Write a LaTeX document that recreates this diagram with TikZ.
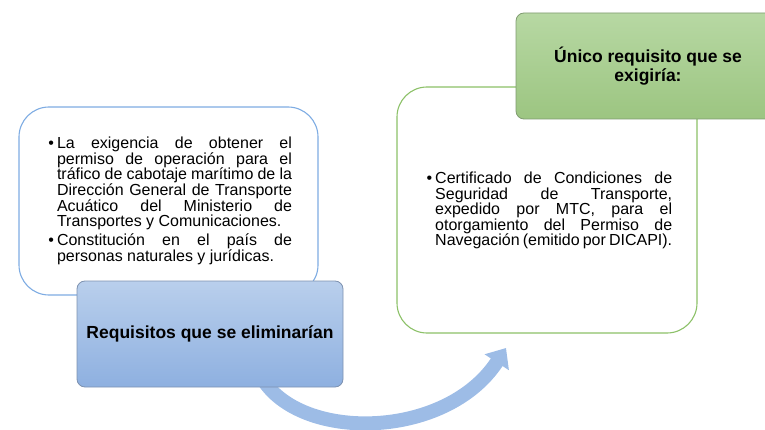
\documentclass[tikz,border=0pt]{standalone}
\usepackage{fontspec}
\setmainfont{Liberation Sans}
\usetikzlibrary{arrows.meta}
\definecolor{lborder}{HTML}{7EACE3}
\definecolor{rborder}{HTML}{8CC168}
\definecolor{bluetop}{HTML}{B9CFEC}
\definecolor{bluebot}{HTML}{8EB0E0}
\definecolor{blueedge}{HTML}{7E92B0}
\definecolor{greentop}{HTML}{B7D8A3}
\definecolor{greenbot}{HTML}{9CC581}
\definecolor{greenedge}{HTML}{7F9B70}
\definecolor{arrowcol}{HTML}{9DBCE6}
\newenvironment{bulletlist}{\begin{list}{\textbullet}{\leftmargin=9pt\labelwidth=6pt\labelsep=3pt\itemsep=3.7pt\topsep=0pt\parsep=0pt\partopsep=0pt\itemindent=0pt\rightmargin=0pt}}{\end{list}}
\tikzset{
  outerbox/.style={draw, line width=1.1pt, fill=white, rounded corners=30pt, inner sep=0pt},
  bodytext/.style={text width=#1, align=justify, inner sep=0pt, font=\fontsize{16}{15.6}\selectfont},
  titlebox/.style={rounded corners=8pt, line width=0.8pt, inner sep=0pt, align=center, font=\fontsize{17.5}{19.5}\selectfont\bfseries},
}
\begin{document}
\begin{tikzpicture}[x=1pt,y=-1pt]
\useasboundingbox (0,0) rectangle (765,430);
% left white box
\node[outerbox, draw=lborder, minimum width=299pt, minimum height=188pt] (lbox) at (168.5,201) {};
\node[bodytext=244pt, anchor=center] (ltext) at (170,199) {\hyphenpenalty=10000\begin{bulletlist}
\item La exigencia de obtener el\linebreak permiso de operación para el\linebreak tráfico de cabotaje marítimo de la\linebreak Dirección General de Transporte\linebreak Acuático del Ministerio de\linebreak Transportes y Comunicaciones.
\item Constitución en el país de\linebreak personas naturales y jurídicas.
\end{bulletlist}};
% curved arrow
\coordinate (astart) at (262,378);
\coordinate (aend) at (506,348);
\draw[line width=14pt, arrowcol, -{Triangle[width=28pt,length=17pt]}] (astart) .. controls (300,442) and (446,440) .. (aend);
% blue title box
\node[titlebox, draw=blueedge, top color=bluetop, bottom color=bluebot, minimum width=266pt, minimum height=106pt] (bbox) at (210,334) {Requisitos que se eliminarían};
% right white box
\node[outerbox, draw=rborder, minimum width=300pt, minimum height=246pt] (rbox) at (547,210) {};
\node[bodytext=246pt, anchor=west] (rtext) at (426,208.5) {\hyphenpenalty=10000\begin{bulletlist}
\item Certificado de Condiciones de\linebreak Seguridad de Transporte,\linebreak expedido por MTC, para el\linebreak otorgamiento del Permiso de\linebreak Navegación (emitido por DICAPI).
\end{bulletlist}};
% green title box
\node[titlebox, draw=greenedge, top color=greentop, bottom color=greenbot, minimum width=264pt, minimum height=106pt] (gbox) at (648,66) {Único requisito que se\\exigiría:};
\end{tikzpicture}
\end{document}
